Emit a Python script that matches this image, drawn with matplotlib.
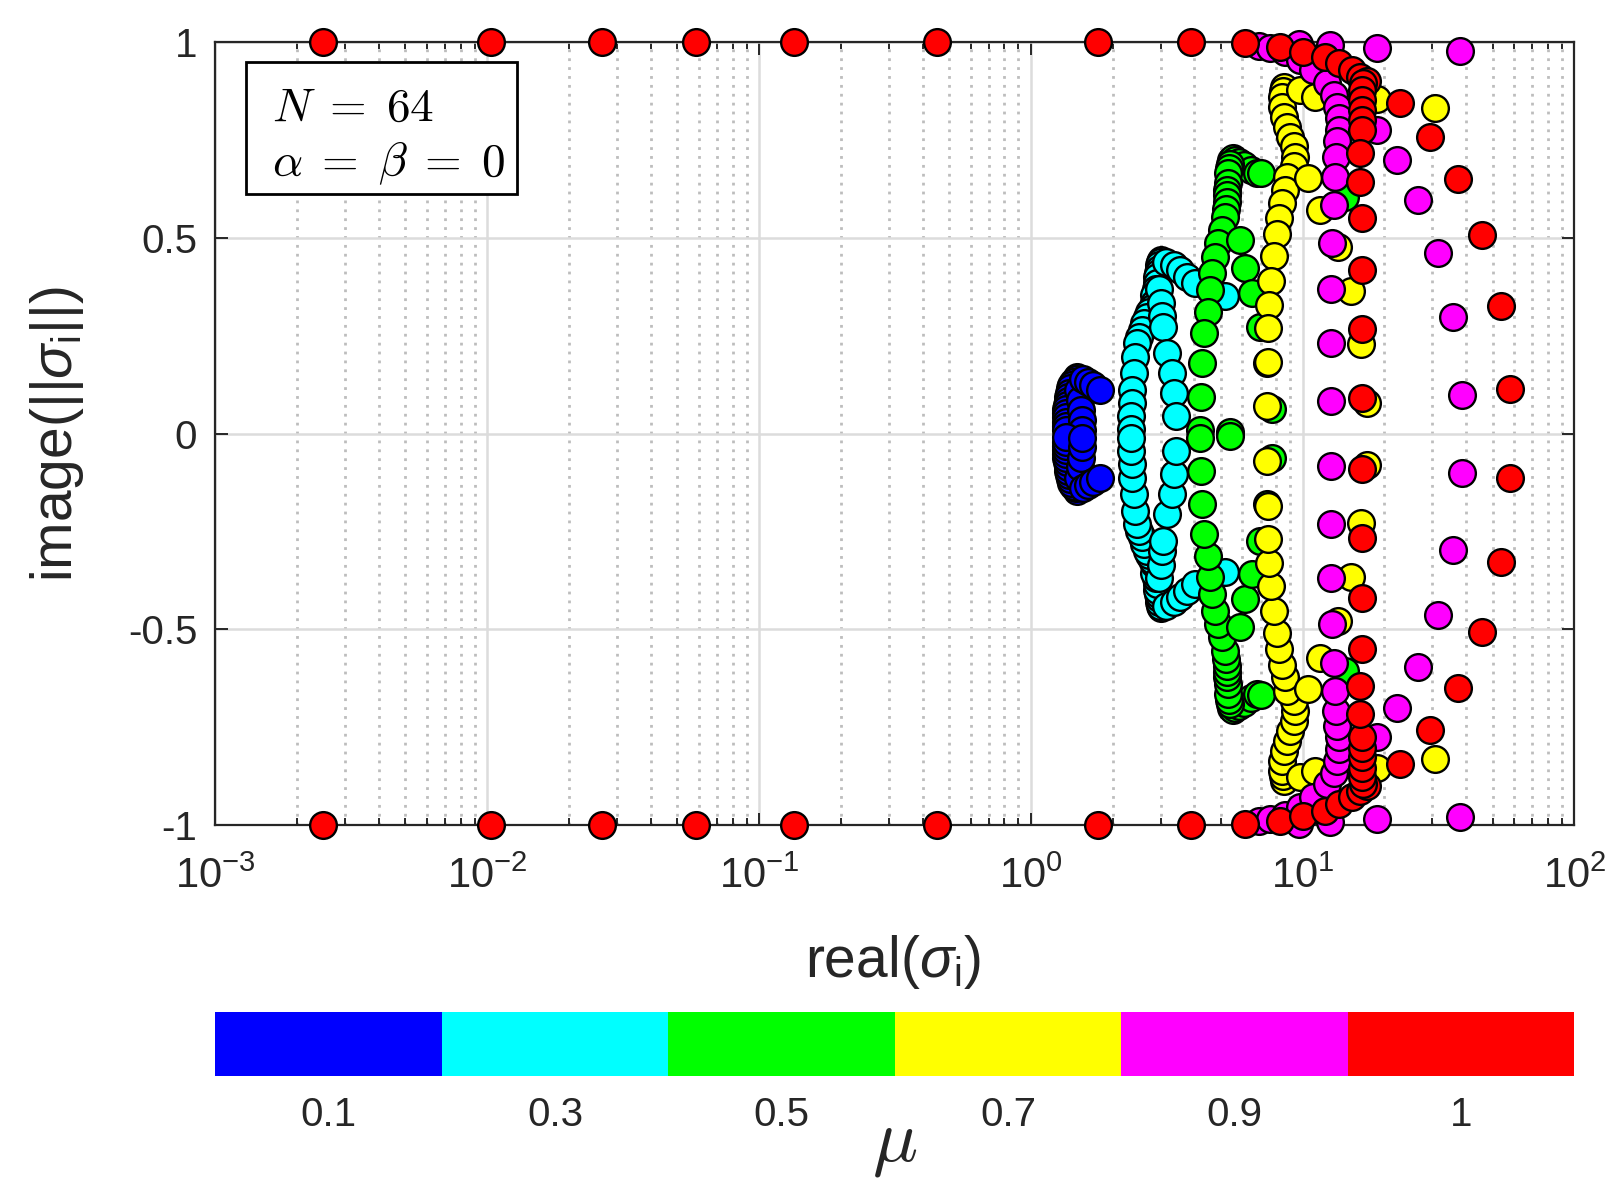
import numpy as np
import matplotlib as mpl
import matplotlib.pyplot as plt
from matplotlib.colors import ListedColormap, BoundaryNorm
from matplotlib.patches import Rectangle
from matplotlib.ticker import NullLocator, FixedLocator

plt.rcParams["font.family"] = ["Liberation Sans", "DejaVu Sans"]
plt.rcParams["mathtext.fontset"] = "custom"
plt.rcParams["mathtext.rm"] = "Liberation Sans"
plt.rcParams["mathtext.it"] = "Liberation Sans:italic"

# eigenvalues (upper half, y >= 0); lower half is the conjugate
re_mu01 = [1.476, 1.46, 1.427, 1.41, 1.395, 1.385, 1.375, 1.365, 1.356, 1.35, 1.345, 1.345, 1.345, 1.345, 1.345,
           1.497, 1.518, 1.531, 1.540, 1.545, 1.55, 1.62, 1.70, 1.80]
im_mu01 = [0.146, 0.140, 0.133, 0.125, 0.116, 0.105, 0.095, 0.084, 0.073, 0.062, 0.052, 0.042, 0.031, 0.020, 0.009,
           0.112, 0.086, 0.061, 0.035, 0.010, 0.140, 0.132, 0.124, 0.112]

re_mu03 = [3.02, 2.99, 2.97, 2.95, 2.94, 2.92, 2.90, 2.88, 2.85, 2.83,
           2.78, 2.72, 2.67, 2.60, 2.56, 2.50, 2.45, 2.42, 2.39, 2.36, 2.35, 2.34, 2.34,
           2.96, 3.00, 3.04, 3.07, 3.16, 3.30, 3.37, 3.42,
           3.15, 3.35, 3.55, 3.75, 4.02, 5.20]
im_mu03 = [0.445, 0.440, 0.430, 0.420, 0.410, 0.400, 0.385, 0.370, 0.355, 0.333,
           0.322, 0.310, 0.299, 0.282, 0.265, 0.248, 0.231, 0.197, 0.154, 0.112, 0.078, 0.045, 0.012,
           0.370, 0.335, 0.300, 0.273, 0.205, 0.154, 0.103, 0.045,
           0.440, 0.430, 0.418, 0.401, 0.384, 0.353]

re_mu05 = [5.45, 5.55, 5.65, 5.85, 6.10, 6.45, 6.78, 7.05,
           5.40, 5.36, 5.33, 5.31, 5.29, 5.27, 5.26, 5.22, 5.19, 5.04, 4.90, 4.76, 4.63, 4.57, 4.47,
           4.34, 4.26, 4.22, 4.20,
           5.89, 6.15, 6.50, 6.98, 7.40, 7.70, 5.41, 14.3]
im_mu05 = [0.700, 0.705, 0.700, 0.695, 0.687, 0.675, 0.665, 0.667,
           0.690, 0.680, 0.665, 0.640, 0.623, 0.610, 0.593, 0.575, 0.555, 0.520, 0.487, 0.452, 0.410, 0.367, 0.312,
           0.257, 0.180, 0.095, 0.010,
           0.495, 0.423, 0.359, 0.273, 0.180, 0.062, 0.005, 0.606]

re_mu07 = [8.51, 8.45, 8.38, 8.38, 8.51, 8.75, 9.00, 9.26, 9.39, 9.26, 8.75, 8.60, 8.40, 8.20, 8.05, 7.85,
           7.65, 7.55, 7.48, 7.45, 7.40,
           9.80, 11.1, 18.8, 30.8, 10.5,
           11.6, 13.5, 15.0, 16.4, 17.3]
im_mu07 = [0.887, 0.875, 0.861, 0.836, 0.810, 0.785, 0.759, 0.734, 0.708, 0.683, 0.657, 0.623, 0.590, 0.550, 0.510, 0.453,
           0.390, 0.330, 0.270, 0.184, 0.070,
           0.878, 0.861, 0.855, 0.831, 0.653,
           0.572, 0.478, 0.365, 0.228, 0.079]

re_mu09 = [6.9, 7.6, 8.6, 9.8, 10.96, 12.3, 13.0, 13.4, 13.6, 13.6, 13.4, 13.3, 13.2, 13.0, 12.8, 12.7, 12.7, 12.7,
           9.66, 12.6, 18.8, 37.8,
           18.8, 22.2, 26.5, 31.6, 35.8, 38.7]
im_mu09 = [0.990, 0.985, 0.975, 0.955, 0.929, 0.895, 0.866, 0.836, 0.806, 0.776, 0.747, 0.708, 0.657, 0.585, 0.487,
           0.369, 0.232, 0.083,
           0.997, 0.993, 0.985, 0.979,
           0.776, 0.700, 0.597, 0.463, 0.297, 0.100]

re_mu10 = [0.00248, 0.01035, 0.0264, 0.0586, 0.1346, 0.451, 1.77, 3.9, 6.14,
           8.26, 10.0, 12.1, 13.6, 15.2, 16.3, 17.2, 16.7, 16.5, 16.5, 16.5, 16.5, 16.5, 16.3, 16.3, 16.5, 16.5,
           16.5, 16.5,
           22.8, 29.5, 37.4, 45.7, 53.5, 58.0]
im_mu10 = [1.0, 1.0, 1.0, 1.0, 1.0, 1.0, 1.0, 1.0, 0.998,
           0.989, 0.976, 0.963, 0.946, 0.929, 0.912, 0.900, 0.895, 0.878, 0.853, 0.827, 0.802, 0.776, 0.717, 0.644,
           0.551, 0.419, 0.267, 0.091,
           0.844, 0.758, 0.651, 0.508, 0.327, 0.113]

mu_labels = ["0.1", "0.3", "0.5", "0.7", "0.9", "1"]
mu_colors = ["#0000ff", "#00ffff", "#00ff00", "#ffff00", "#ff00ff", "#ff0000"]
y_ticks = [-1, -0.5, 0, 0.5, 1]
y_ticklabels = ["-1", "-0.5", "0", "0.5", "1"]

re_all = [re_mu01, re_mu03, re_mu05, re_mu07, re_mu09, re_mu10]
im_all = [im_mu01, im_mu03, im_mu05, im_mu07, im_mu09, im_mu10]

fig = plt.figure(figsize=(16.23, 11.90), dpi=100, facecolor="w")
ax = fig.add_axes([0.1327, 0.3067, 0.8374, 0.6577])

for re_v, im_v, c in zip(re_all, im_all, mu_colors):
    x = np.concatenate([re_v, re_v])
    y = np.concatenate([im_v, -np.asarray(im_v)])
    ax.scatter(x, y, s=370, c=c, edgecolors="k", linewidths=1.7, zorder=3, clip_on=False)

ax.set_xscale("log")
ax.set_xlim(1e-3, 1e2)
ax.set_ylim(-1, 1)
ax.yaxis.set_major_locator(FixedLocator(y_ticks))
ax.set_yticklabels(y_ticklabels)
ax.yaxis.set_minor_locator(NullLocator())

ax.set_axisbelow(True)
ax.grid(which="major", color="#dcdcdc", lw=1.8, ls="-")
ax.grid(which="minor", axis="x", color="#bdbdbd", lw=2.0, ls=(0, (1, 2.2)))
ax.tick_params(which="both", direction="in", top=True, right=True, colors="#262626",
               labelsize=29, width=1.4)
ax.tick_params(axis="x", which="major", labelsize=30)
ax.tick_params(which="major", length=9)
ax.tick_params(which="minor", length=5)
ax.tick_params(axis="x", which="both", pad=23)
ax.tick_params(axis="y", which="both", pad=13)
for sp in ax.spines.values():
    sp.set_color("#262626")
    sp.set_linewidth(1.6)

# text box
ax.add_patch(Rectangle((0.0226, 0.8068), 0.1993, 0.1682, transform=ax.transAxes,
                       fc="w", ec="k", lw=2, zorder=4))
ax.text(0.0417, 0.900, r"$N\;=\;64$", transform=ax.transAxes, fontsize=34,
        math_fontfamily="cm", va="baseline", zorder=5)
ax.text(0.0417, 0.829, r"$\alpha\;=\;\beta\;=\;0$", transform=ax.transAxes, fontsize=34,
        math_fontfamily="cm", va="baseline", zorder=5)

fig.text(0.5505, 0.192, r"real($\sigma_{\rm i}$)", fontsize=41, ha="center", va="center",
         color="#262626")
fig.text(0.0351, 0.6355, r"image($||\sigma_{\rm i}||$)", fontsize=41, ha="center", va="center",
         rotation=90, color="#262626")

# colour bar for mu
cax = fig.add_axes([0.1327, 0.0954, 0.8374, 0.054])
cmap = ListedColormap(mu_colors)
norm = BoundaryNorm(np.arange(len(mu_colors) + 1), len(mu_colors))
cb = mpl.colorbar.ColorbarBase(cax, cmap=cmap, norm=norm, orientation="horizontal",
                               ticks=np.arange(len(mu_colors)) + 0.5)
cb.set_ticklabels(mu_labels)
cb.outline.set_visible(False)
cax.minorticks_off()
cax.tick_params(which="both", length=0, labelsize=29, pad=14, colors="#262626")
fig.text(0.5515, 0.038, r"$\mu$", fontsize=54, ha="center", va="center",
         math_fontfamily="cm", color="#262626")

fig.savefig("out.png", dpi=100)
